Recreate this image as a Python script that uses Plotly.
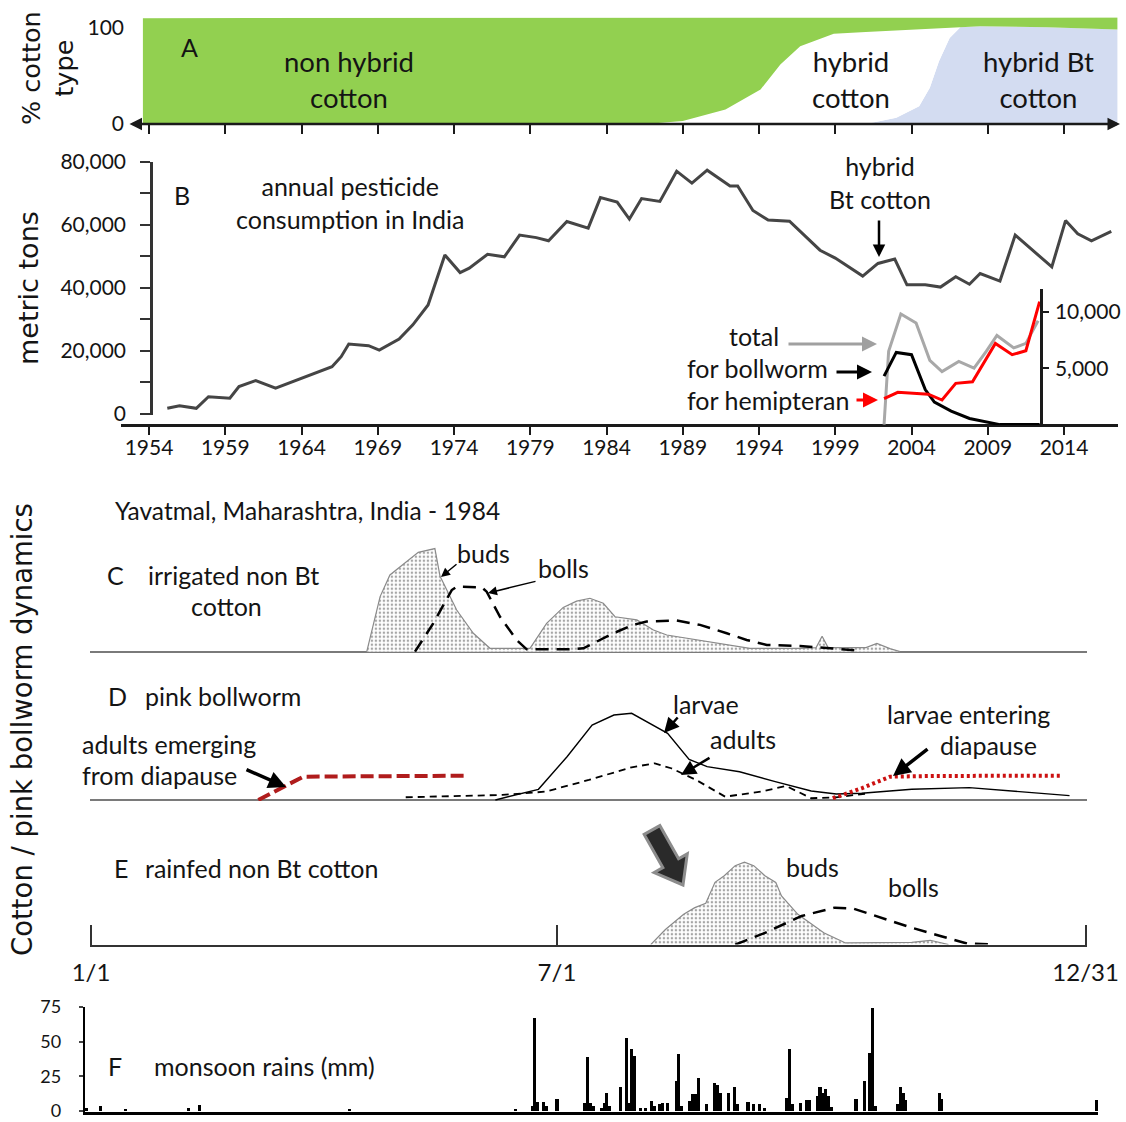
import plotly.graph_objects as go

W, H = 1126, 1122


def fx(px):
    return px / W


def fy(py):
    return 1 - py / H


# ---------------- data ----------------
# Panel A: % cotton type (stacked boundaries)
a_years = [1953.6, 1986.6, 1989.0, 1991.8, 1994.1, 1995.4, 1996.7, 1998.9, 2001.0, 2003.0,
           2004.5, 2005.2, 2005.8, 2006.5, 2007.2, 2008.5, 2012.9, 2017.5]
a_bt = [0, 0, 0, 0, 0, 0, 0, 0, 0, 6.5, 18.5, 37.7, 65.4, 89.7, 100.8, 101.9, 100.8, 98.4]
a_hybrid_top = [0, 0, 3, 15, 36, 62, 81, 94, 96, 97.4, 98.5, 99.2, 99.7, 100.2, 100.8, 101.9, 100.8, 98.4]
a_total = [110.3, 110.8, 110.8, 110.8, 110.9, 110.9, 110.9, 110.9, 111, 111,
           111, 111, 111, 111, 111, 111, 111.1, 111.2]

# Panel B: annual pesticide consumption (metric tons)
b_years = [1955.2, 1956.0, 1957.1, 1957.9, 1959.3, 1959.9, 1961.0, 1962.3, 1966.0, 1966.6,
           1967.1, 1968.4, 1969.1, 1970.4, 1971.3, 1972.3, 1973.4, 1974.4, 1975.0, 1976.2,
           1977.3, 1978.3, 1979.4, 1980.2, 1981.4, 1982.8, 1983.6, 1984.7, 1985.5, 1986.3,
           1987.5, 1988.6, 1989.6, 1990.6, 1992.1, 1992.6, 1993.6, 1994.6, 1996.0, 1998.0,
           1999.0, 2000.8, 2001.8, 2002.9, 2003.7, 2004.9, 2005.9, 2006.9, 2007.8, 2008.5,
           2009.8, 2010.8, 2013.2, 2014.1, 2014.9, 2015.8, 2017.1]
b_tons = [1700, 2500, 1700, 5400, 4900, 8600, 10500, 8100, 14900, 18100,
          22100, 21600, 20200, 23700, 28200, 34500, 50400, 44800, 46200, 50600,
          49800, 56700, 55900, 54900, 61000, 58900, 68600, 67200, 61800, 68300,
          67400, 77000, 73200, 77300, 72300, 72300, 64500, 61500, 61100, 51900,
          49400, 43700, 47700, 49100, 40900, 40900, 40200, 43500, 41100, 44500,
          42100, 56700, 46600, 61300, 57100, 54900, 57900]
b_tick_years = [1954, 1959, 1964, 1969, 1974, 1979, 1984, 1989, 1994, 1999, 2004, 2009, 2014]
b_tick_vals = [0, 10000, 20000, 30000, 40000, 50000, 60000, 70000, 80000]
b_tick_text = ["0", "", "20,000", "", "40,000", "", "60,000", "", "80,000"]

# Inset in B: insecticide use on cotton (metric tons)
i_total_years = [2002.2, 2002.5, 2003.3, 2004.3, 2005.2, 2006.0, 2007.1, 2008.1, 2008.9,
                 2009.6, 2010.7, 2011.5, 2012.3]
i_total = [0, 6500, 9800, 9000, 5700, 4700, 5600, 5000, 6500, 7900, 6800, 7200, 9200]
i_bw_years = [2002.2, 2003.0, 2004.0, 2004.9, 2005.5, 2006.6, 2007.8, 2008.8, 2009.8, 2012.4]
i_bollworm = [4300, 6400, 6200, 3100, 2000, 1200, 540, 250, 0, 0]
i_hem_years = [2002.2, 2003.1, 2005.1, 2006.0, 2006.9, 2008.0, 2009.5, 2010.6, 2011.5, 2012.4]
i_hemipteran = [2300, 2860, 2700, 2180, 3660, 3800, 7200, 6200, 6550, 10900]
i_tick_vals = [5000, 10000]
i_tick_text = ["5,000", "10,000"]

# Panel C: irrigated non Bt cotton (relative units, day of year)
c_bud_day = [102.2, 107.1, 110.7, 121.1, 127.2, 129.1, 135.2, 141.3, 147.4, 162.1, 168.2,
             174.3, 179.2, 184.1, 189.0, 193.3, 201.3, 207.4, 212.3, 230.6, 242.8, 261.2,
             267.1, 269.3, 271.5, 285.4, 289.4, 294.2, 297.9]
c_buds = [0, 53.6, 74.7, 96.7, 100.4, 73.4, 40.6, 17.9, 3.3, 3.3, 27.6,
          43.1, 49.2, 52, 47.1, 34, 30.9, 21.1, 16.2, 8.1, 3.3, 3.3,
          4, 15, 4, 4, 8, 3, 0]
c_boll_day = [119.9, 126.6, 133.4, 135.2, 144.4, 146.2, 151.1, 157.2, 160.9, 175.6, 181.7,
              192.7, 200.0, 204.9, 215.9, 224.5, 234.3, 241.6, 249.0, 261.2, 272.2, 283.2]
c_bolls = [0, 27.6, 60, 63.3, 62.7, 58.4, 34, 11.4, 2.3, 2.3, 3.3,
           17.9, 26.1, 29.3, 30.3, 26.1, 17.9, 11.4, 6.5, 5.5, 3.3, 1]

# Panel D: pink bollworm
d_larvae_day = [149.4, 165.2, 175.7, 184.9, 192.9, 199.4, 212.6, 220.5, 227.1, 239.0, 252.1,
                265.3, 274.5, 283.8, 302.2, 323.3, 341.7, 360.1]
d_larvae = [0, 12.3, 49.9, 86.5, 98, 100, 76.9, 46.9, 38.4, 32.6, 21.1,
            10.4, 6.9, 7.7, 12.3, 14.2, 9.6, 5]
d_adult_day = [116.5, 152.0, 167.8, 183.7, 199.4, 207.9, 213.9, 223.1, 233.7, 246.9, 256.1,
               265.3, 274.5, 286.4]
d_adults = [3.1, 5.8, 9.6, 23.1, 37.7, 42.3, 36.6, 23.1, 3.8, 9.6, 16.1, 2, 3.1, 7.7]
d_emerge_day = [62.4, 70.4, 78.9, 138.8]
d_emerge = [0, 13.5, 26.9, 28]
d_diapause_day = [273.2, 283.8, 294.3, 310.1, 357.5]
d_diapause = [2, 13.5, 26.9, 27.7, 28]

# Panel E: rainfed non Bt cotton
e_bud_day = [206.4, 211.8, 218.5, 222.6, 226.6, 230.0, 233.4, 237.4, 240.8, 244.2, 248.3,
             252.3, 254.4, 260.4, 269.9, 277.9, 302.2, 309.0, 315.7]
e_buds = [0, 14.7, 29.5, 36, 40.3, 60.6, 67.1, 76.9, 80.3, 76.9, 67.1,
          60.6, 47.4, 29.5, 11.5, 1.6, 2.2, 4.2, 0]
e_boll_day = [237.4, 248.3, 261.8, 274.0, 280.7, 288.8, 302.2, 313.0, 322.5, 332.6]
e_bolls = [0, 11.4, 27.9, 36, 35.1, 27.9, 16.4, 8.2, 1, 0]
date_tick_vals = [1, 172, 366]
date_tick_text = ["1/1", "7/1", "12/31"]

# Panel F: daily monsoon rains (mm)
rain_day = [1, 6, 15, 38, 42, 96, 156, 162, 163, 164, 166, 167, 171, 181, 182, 183, 184,
            187, 188, 189, 190, 194, 196, 197, 198, 199, 201, 203, 205, 206, 208, 209, 211,
            214, 215, 216, 219, 220, 221, 222, 225, 228, 229, 230, 233, 235, 236, 240, 242,
            244, 246, 254, 255, 256, 259, 261, 262, 265, 266, 267, 268, 269, 270, 279, 282,
            284, 285, 286, 294, 295, 296, 297, 309, 310, 366]
rain_mm = [2, 3.5, 1, 2.5, 4.5, 1, 1, 3.5, 67, 6.5, 6.5, 3.5, 8.5, 6, 39, 6, 3.5,
           2.5, 6, 13, 3.5, 17, 53, 6, 44.5, 40, 2, 2, 7, 3.5, 5, 6, 5.5,
           21.5, 41, 3.5, 7, 12, 12, 24, 5, 20.5, 18.5, 13, 13, 17.5, 5, 6.5, 5,
           5, 2.5, 9.5, 45, 5, 5.5, 8, 8, 11, 17.5, 13, 15.5, 11, 3, 8.5, 21.5,
           41.5, 74.5, 3.5, 5, 17, 13, 8, 13, 8.5, 8]
f_tick_vals = [0, 25, 50, 75]

# ---------------- figure ----------------
fig = go.Figure()

# A
fig.add_trace(go.Scatter(x=a_years, y=a_bt, xaxis="x4", yaxis="y", mode="lines",
                         line=dict(width=0), fill="tozeroy", fillcolor="#d3dcf1"))
fig.add_trace(go.Scatter(x=a_years, y=a_hybrid_top, xaxis="x4", yaxis="y", mode="lines",
                         line=dict(width=0), fill="tonexty", fillcolor="#ffffff"))
fig.add_trace(go.Scatter(x=a_years, y=a_total, xaxis="x4", yaxis="y", mode="lines",
                         line=dict(width=0), fill="tonexty", fillcolor="#92d050"))

# B
fig.add_trace(go.Scatter(x=b_years, y=b_tons, xaxis="x", yaxis="y2", mode="lines",
                         line=dict(color="#454545", width=3)))
fig.add_trace(go.Scatter(x=i_total_years, y=i_total, xaxis="x", yaxis="y3", mode="lines",
                         line=dict(color="#a8a8a8", width=3)))
fig.add_trace(go.Scatter(x=i_bw_years, y=i_bollworm, xaxis="x", yaxis="y3", mode="lines",
                         line=dict(color="#000000", width=3)))
fig.add_trace(go.Scatter(x=i_hem_years, y=i_hemipteran, xaxis="x", yaxis="y3", mode="lines",
                         line=dict(color="#ff0000", width=3)))

# C
dots = dict(shape=".", fgcolor="#4a4a4a", bgcolor="#ffffff", size=4, solidity=0.3)
fig.add_trace(go.Scatter(x=c_bud_day, y=c_buds, xaxis="x2", yaxis="y4", mode="lines",
                         line=dict(color="#8a8a8a", width=1.2), fill="tozeroy",
                         fillcolor="#ffffff", fillpattern=dots))
fig.add_trace(go.Scatter(x=c_boll_day, y=c_bolls, xaxis="x2", yaxis="y4", mode="lines",
                         line=dict(color="#000000", width=2.5, dash="13px,8px")))

# D
fig.add_trace(go.Scatter(x=d_larvae_day, y=d_larvae, xaxis="x2", yaxis="y5", mode="lines",
                         line=dict(color="#000000", width=1.4)))
fig.add_trace(go.Scatter(x=d_adult_day, y=d_adults, xaxis="x2", yaxis="y5", mode="lines",
                         line=dict(color="#000000", width=1.8, dash="7px,5px")))
fig.add_trace(go.Scatter(x=d_emerge_day, y=d_emerge, xaxis="x2", yaxis="y5", mode="lines",
                         line=dict(color="#b01c1c", width=4, dash="13px,5px")))
fig.add_trace(go.Scatter(x=d_diapause_day, y=d_diapause, xaxis="x2", yaxis="y5", mode="lines",
                         line=dict(color="#cc1111", width=4, dash="3px,3px")))

# E
fig.add_trace(go.Scatter(x=e_bud_day, y=e_buds, xaxis="x2", yaxis="y6", mode="lines",
                         line=dict(color="#8a8a8a", width=1.2), fill="tozeroy",
                         fillcolor="#ffffff", fillpattern=dots))
fig.add_trace(go.Scatter(x=e_boll_day, y=e_bolls, xaxis="x2", yaxis="y6", mode="lines",
                         line=dict(color="#000000", width=2.5, dash="13px,8px")))

# F
fig.add_trace(go.Bar(x=rain_day, y=rain_mm, xaxis="x3", yaxis="y7", width=1.15,
                     marker=dict(color="#000000", line=dict(width=0))))

FONT = "Lato"
TXT = "#141414"
axcol = "#1a1a1a"

base_axis = dict(showgrid=False, zeroline=False, fixedrange=True)

fig.update_layout(
    width=W, height=H, margin=dict(l=0, r=0, t=0, b=0, pad=0, autoexpand=False),
    paper_bgcolor="white", plot_bgcolor="rgba(0,0,0,0)", showlegend=False,
    font=dict(family=FONT, color=TXT, size=18),
    bargap=0,
    # years axis for B
    xaxis=dict(**base_axis, domain=[fx(121), fx(1118)], range=[1952.164, 2017.54],
               anchor="free", position=fy(425), showline=True, linecolor=axcol, linewidth=2.5,
               ticks="outside", ticklen=8, tickwidth=2, tickcolor=axcol,
               tickvals=b_tick_years, tickfont=dict(size=21), ticklabelstandoff=-5),
    # years axis for A
    xaxis4=dict(**base_axis, domain=[fx(128), fx(1120)], range=[1952.623, 2017.67],
                anchor="y", showline=False, ticks="outside", ticklen=9, tickwidth=2,
                tickcolor=axcol, tickvals=b_tick_years, showticklabels=False),
    # day axis C-E
    xaxis2=dict(**base_axis, domain=[fx(89.9), fx(1086.7)], range=[0.6, 366.4], anchor="y6",
                showline=True, linecolor="#333333", linewidth=1.5, ticks="inside", ticklen=20,
                tickwidth=1.5, tickcolor="#333333", tickvals=date_tick_vals,
                ticktext=date_tick_text, tickfont=dict(size=24), ticklabelstandoff=6),
    # day axis F
    xaxis3=dict(**base_axis, domain=[fx(84.7), fx(1098)], range=[0.5, 366.5], anchor="y7",
                showline=True, linecolor="#000000", linewidth=3, ticks="",
                showticklabels=False),
    yaxis=dict(**base_axis, domain=[fy(124), fy(17.5)], range=[0, 111], anchor="x4",
               tickvals=[0, 100], ticks="", showline=False, tickfont=dict(size=21),
               ticklabelstandoff=3),
    yaxis2=dict(**base_axis, domain=[fy(415), fy(161.7)], range=[-413, 80000], anchor="free",
                position=fx(151), showline=True, linecolor="#333333", linewidth=2.5,
                ticks="outside", ticklen=10, tickwidth=2, tickcolor="#333333",
                tickvals=b_tick_vals, ticktext=b_tick_text, tickfont=dict(size=21),
                ticklabelstandoff=10),
    yaxis3=dict(**base_axis, domain=[fy(425), fy(289.3)], range=[-35, 11995], anchor="free",
                position=fx(1041), side="right", showline=True, linecolor=axcol, linewidth=2.5,
                ticks="outside", ticklen=6, tickwidth=2, tickcolor=axcol,
                tickvals=i_tick_vals, ticktext=i_tick_text, tickfont=dict(size=21),
                ticklabelstandoff=2),
    yaxis4=dict(**base_axis, domain=[fy(652.7), fy(538.7)], range=[-1, 110], anchor="x2",
                showticklabels=False, ticks="", showline=False),
    yaxis5=dict(**base_axis, domain=[fy(801), fy(709)], range=[-1.2, 105], anchor="x2",
                showticklabels=False, ticks="", showline=False),
    yaxis6=dict(**base_axis, domain=[fy(944.6), fy(852.2)], range=[0, 90], anchor="x2",
                showticklabels=False, ticks="", showline=False),
    yaxis7=dict(**base_axis, domain=[fy(1111.8), fy(1007)], range=[-0.6, 75], anchor="x3",
                showline=True, linecolor="#000000", linewidth=2, ticks="outside", ticklen=4,
                tickwidth=2, tickvals=f_tick_vals, tickfont=dict(size=18), ticklabelstandoff=14,
                ticklabeloverflow="allow"),
)
fig.layout.yaxis4.update(zeroline=True, zerolinecolor="#7a7a7a", zerolinewidth=1.5)
fig.layout.yaxis5.update(zeroline=True, zerolinecolor="#7a7a7a", zerolinewidth=1.5)

ann = []


def txt(x, y, s, size=25, xanchor="center", family=FONT, angle=0, color=TXT):
    ann.append(dict(x=fx(x), y=fy(y), xref="paper", yref="paper", text=s, showarrow=False,
                    xanchor=xanchor, yanchor="middle", textangle=angle,
                    font=dict(size=size, family=family, color=color)))


def arr(x0, y0, x1, y1, color="#000000", width=2, head=2, size=1.0, side="end"):
    ann.append(dict(x=fx(x1), y=fy(y1), xref="paper", yref="paper", text="",
                    showarrow=True, ax=x0 - x1, ay=y0 - y1, axref="pixel", ayref="pixel",
                    arrowhead=head, arrowsize=size, arrowwidth=width, arrowcolor=color,
                    arrowside=side, standoff=0, startstandoff=0))


# A
txt(48, 68, "% cotton<br>type", size=25.5, family="DejaVu Sans", angle=-90)
txt(190, 47, "A", size=25)
txt(349, 79, "non hybrid<br>cotton", size=27.5)
txt(851, 79, "hybrid<br>cotton", size=27.5)
txt(1038, 79, "hybrid Bt<br>cotton", size=27.5)
arr(128, 124, 1120, 124, color=axcol, width=2.5, head=2, size=1.0, side="end+start")

# B
txt(28, 288, "metric tons", size=27, family="DejaVu Sans", angle=-90)
txt(182, 195, "B", size=25)
txt(350, 202, "annual pesticide<br>consumption in India", size=25)
txt(880, 182, "hybrid<br>Bt cotton", size=25)
arr(879, 219, 879, 257, width=2.5, head=2, size=1.0)
txt(781, 336, "total", size=25, xanchor="right")
txt(830, 368, "for bollworm", size=25, xanchor="right")
txt(851, 400, "for hemipteran", size=25, xanchor="right")
arr(787, 344, 877, 344, color="#a0a0a0", width=3, head=2, size=1.0)
arr(835, 372, 872, 372, color="#000000", width=3, head=2, size=1.0)
arr(855, 400, 878, 400, color="#ff0000", width=3, head=2, size=1.0)

# C-E
txt(22, 730, "Cotton / pink bollworm dynamics", size=27.5, family="DejaVu Sans", angle=-90)
txt(113, 510, "Yavatmal, Maharashtra, India - 1984", size=24.5, xanchor="left")
txt(115, 575, "C", size=25)
txt(146, 575, "irrigated non Bt", size=25, xanchor="left")
txt(226, 606, "cotton", size=25)
txt(483, 553, "buds", size=25)
txt(563, 568, "bolls", size=25)
arr(458, 563, 441, 577, width=1.5, head=2, size=1.2)
arr(537, 581, 488, 593, width=1.5, head=2, size=1.2)

txt(117, 696, "D", size=25)
txt(143, 696, "pink bollworm", size=25, xanchor="left")
txt(80, 744, "adults emerging", size=25, xanchor="left")
txt(80, 775, "from diapause", size=25, xanchor="left")
txt(706, 704, "larvae", size=25)
txt(743, 739, "adults", size=25)
txt(968, 714, "larvae entering", size=25)
txt(988, 745, "diapause", size=25)
arr(245, 769, 286, 787, width=3.5, head=2, size=1.0)
arr(679, 716, 664, 733, width=2.5, head=2, size=1.2)
arr(711, 757, 681, 775, width=2.5, head=2, size=1.2)
arr(929, 748, 893, 776, width=3.5, head=2, size=1.0)

txt(121, 868, "E", size=25)
txt(143, 868, "rainfed non Bt cotton", size=25, xanchor="left")
txt(812, 867, "buds", size=25)
txt(913, 887, "bolls", size=25)

# F
txt(115, 1066, "F", size=25)
txt(152, 1066, "monsoon rains (mm)", size=25, xanchor="left")

fig.update_layout(annotations=ann)

# decorative block arrow (panel E), geometry in pixels -> paper
tail = (652.0, 830.0)
tip = (683.0, 885.0)
dx, dy = tip[0] - tail[0], tip[1] - tail[1]
L = (dx ** 2 + dy ** 2) ** 0.5
ux, uy = dx / L, dy / L
nx, ny = uy, -ux
neck = (tip[0] - ux * 25, tip[1] - uy * 25)
pts = [
    (tail[0] + nx * 9, tail[1] + ny * 9),
    (neck[0] + nx * 9, neck[1] + ny * 9),
    (neck[0] + nx * 19, neck[1] + ny * 19),
    tip,
    (neck[0] - nx * 19, neck[1] - ny * 19),
    (neck[0] - nx * 9, neck[1] - ny * 9),
    (tail[0] - nx * 9, tail[1] - ny * 9),
]
path = "M " + " L ".join(f"{fx(p[0]):.5f},{fy(p[1]):.5f}" for p in pts) + " Z"
fig.add_shape(type="path", path=path, xref="paper", yref="paper",
              fillcolor="#2a2a2a", line=dict(color="#8c8c8c", width=3), layer="above")

fig.write_html("out.html", config={"displayModeBar": False},
               post_script="document.body.style.margin='0';")
